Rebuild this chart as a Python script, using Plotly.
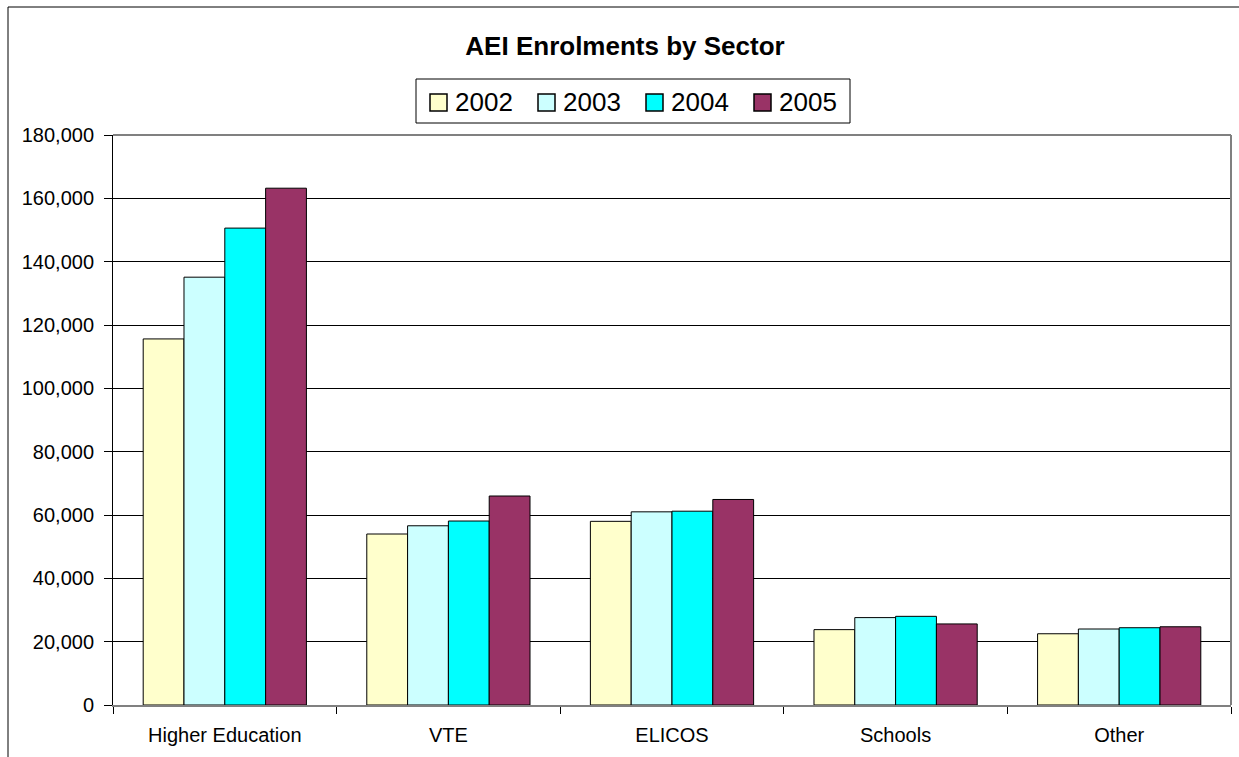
import plotly.graph_objects as go

categories = ["Higher Education", "VTE", "ELICOS", "Schools", "Other"]
years = ["2002", "2003", "2004", "2005"]
v2002 = [115600, 54000, 58000, 23800, 22500]
v2003 = [135100, 56600, 61000, 27600, 24000]
v2004 = [150600, 58100, 61200, 28000, 24400]
v2005 = [163200, 66000, 64900, 25600, 24700]
colors = ["#FFFFCC", "#CCFFFF", "#00FFFF", "#993366"]
y_ticks = [0, 20000, 40000, 60000, 80000, 100000, 120000, 140000, 160000, 180000]

FONT = "Arial, 'Liberation Sans', sans-serif"

W, H = 1239, 757
L, R, T, B = 113, 8, 135, 52
pw = W - L - R
ph = H - T - B


def px_x(x):
    return (x - L) / pw


def px_y(y):
    return 1 - (y - T) / ph


fig = go.Figure()
for name, vals, col in zip(years, [v2002, v2003, v2004, v2005], colors):
    fig.add_trace(go.Bar(
        x=categories, y=vals, name=name, showlegend=False,
        marker=dict(color=col, line=dict(color="black", width=1)),
    ))

shapes = []
annotations = []

# outer chart frame (left and top visible)
shapes.append(dict(type="path", xref="paper", yref="paper",
                   path=f"M {px_x(8)} {px_y(800)} L {px_x(8)} {px_y(7)} L {px_x(1260)} {px_y(7)}",
                   line=dict(color="black", width=1)))

# plot area frame: top and right in gray
gray = "#808080"
shapes.append(dict(type="line", xref="paper", yref="paper", x0=0, x1=1, y0=1, y1=1,
                   line=dict(color=gray, width=2), layer="above"))
shapes.append(dict(type="line", xref="paper", yref="paper", x0=1, x1=1, y0=0, y1=1,
                   line=dict(color=gray, width=2), layer="above"))

# custom legend
shapes.append(dict(type="rect", xref="paper", yref="paper",
                   x0=px_x(416), x1=px_x(850), y0=px_y(123), y1=px_y(79),
                   line=dict(color="black", width=1), fillcolor="white"))
for i, (name, col) in enumerate(zip(years, colors)):
    sx = 430 + i * 108
    shapes.append(dict(type="rect", xref="paper", yref="paper",
                       x0=px_x(sx), x1=px_x(sx + 17), y0=px_y(111), y1=px_y(94),
                       line=dict(color="black", width=1.5), fillcolor=col))
    annotations.append(dict(text=name, xref="paper", yref="paper",
                            x=px_x(sx + 23), y=px_y(102.5), xanchor="left", yanchor="middle",
                            showarrow=False, font=dict(family=FONT, size=26, color="black")))

fig.update_layout(
    width=W, height=H,
    margin=dict(l=L, r=R, t=T, b=B, pad=0),
    paper_bgcolor="white", plot_bgcolor="white",
    barmode="group", bargap=0.27, bargroupgap=0,
    showlegend=False,
    font=dict(family=FONT, color="black", size=20),
    title=dict(text="<b>AEI Enrolments by Sector</b>", x=625 / W, xref="container",
               xanchor="center", y=1 - 45.5 / H, yanchor="middle",
               font=dict(family=FONT, size=26, color="black")),
    xaxis=dict(showline=True, linecolor=gray, linewidth=2,
               ticks="outside", tickson="boundaries", ticklen=7, tickcolor="black",
               ticklabelstandoff=11,
               tickfont=dict(family=FONT, size=20, color="black"),
               showgrid=False, range=[-0.5, 4.5], fixedrange=True),
    yaxis=dict(range=[0, 180000], tickvals=y_ticks,
               ticktext=[f"{v:,}" for v in y_ticks],
               showline=True, linecolor="black", linewidth=1,
               ticks="outside", ticklen=8, tickcolor="black",
               ticklabelstandoff=6,
               showgrid=True, gridcolor="black", gridwidth=1,
               zeroline=False, fixedrange=True,
               tickfont=dict(family=FONT, size=20, color="black")),
    shapes=shapes,
    annotations=annotations,
)

fig.write_html("out.html", config={"displayModeBar": False},
               post_script="document.body.style.margin='0';document.body.style.overflow='hidden';")
